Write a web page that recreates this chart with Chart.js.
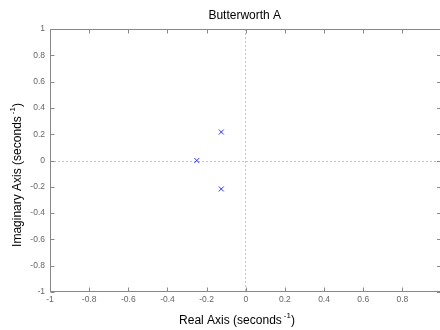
<!DOCTYPE html>
<html><head><meta charset="utf-8">
<script src="https://cdn.jsdelivr.net/npm/chart.js@4"></script>
<style>html,body{margin:0;padding:0;overflow:hidden;background:#fff}#wrap{width:446px;height:330px}</style>
</head><body><div id="wrap"><canvas id="c" width="446" height="330"></canvas></div>
<script>
const chartTitle = 'Butterworth A';
const xAxisLabel = 'Real Axis (seconds';
const yAxisLabel = 'Imaginary Axis (seconds';
const unitSup = '-1';
const unitClose = ')';
const poleRe = [-0.25, -0.125, -0.125];
const poleIm = [0, 0.2165, -0.2165];
const xTicks = [-1, -0.8, -0.6, -0.4, -0.2, 0, 0.2, 0.4, 0.6, 0.8];
const xTickLabels = ['-1', '-0.8', '-0.6', '-0.4', '-0.2', '0', '0.2', '0.4', '0.6', '0.8'];
const yTicks = [-1, -0.8, -0.6, -0.4, -0.2, 0, 0.2, 0.4, 0.6, 0.8, 1];
const yTickLabels = ['-1', '-0.8', '-0.6', '-0.4', '-0.2', '0', '0.2', '0.4', '0.6', '0.8', '1'];

const FONT = "'Liberation Sans', Arial, Helvetica, sans-serif";
const AXIS_COLOR = '#888888';

function drawSupLabel(ctx, main, sup, close, cx, cy) {
  ctx.font = '12px ' + FONT;
  const w1 = ctx.measureText(main).width;
  const w3 = ctx.measureText(close).width;
  ctx.font = '8px ' + FONT;
  const gap = 2;
  const w2 = ctx.measureText(sup).width;
  const total = w1 + gap + w2 + w3;
  let x = cx - total / 2;
  ctx.textAlign = 'left';
  ctx.textBaseline = 'middle';
  ctx.fillStyle = '#000';
  ctx.font = '12px ' + FONT;
  ctx.fillText(main, x, cy);
  x += w1 + gap;
  ctx.font = '8px ' + FONT;
  ctx.fillText(sup, x, cy - 5);
  x += w2;
  ctx.font = '12px ' + FONT;
  ctx.fillText(close, x, cy);
}

const decor = {
  id: 'decor',
  beforeDatasetsDraw(chart) {
    const {ctx, chartArea: a, scales} = chart;
    const x0 = Math.round(scales.x.getPixelForValue(0)) - 0.5;
    const y0 = Math.round(scales.y.getPixelForValue(0)) + 0.5;
    ctx.save();
    ctx.strokeStyle = '#c4c4c4';
    ctx.lineWidth = 1;
    ctx.setLineDash([2, 2]);
    ctx.beginPath();
    ctx.moveTo(a.left, y0); ctx.lineTo(a.right, y0);
    ctx.moveTo(x0, a.top); ctx.lineTo(x0, a.bottom);
    ctx.stroke();
    ctx.restore();
  },
  afterDraw(chart) {
    const {ctx, chartArea: a, scales} = chart;
    ctx.save();
    ctx.strokeStyle = AXIS_COLOR;
    ctx.lineWidth = 1;
    const L = a.left + 0.5, R = a.right - 0.5, T = a.top + 0.5, B = a.bottom - 0.5;
    ctx.beginPath();
    ctx.moveTo(L, T); ctx.lineTo(R, T); ctx.lineTo(R, B); ctx.lineTo(L, B); ctx.closePath();
    const tl = 4;
    scales.x.ticks.forEach(t => {
      const px = Math.round(scales.x.getPixelForValue(t.value)) + 0.5;
      ctx.moveTo(px, B); ctx.lineTo(px, B - tl);
      ctx.moveTo(px, T); ctx.lineTo(px, T + tl);
    });
    scales.y.ticks.forEach(t => {
      const py = Math.round(scales.y.getPixelForValue(t.value)) + 0.5;
      ctx.moveTo(L, py); ctx.lineTo(L + tl, py);
      ctx.moveTo(R, py); ctx.lineTo(R - tl, py);
    });
    ctx.stroke();

    ctx.fillStyle = '#000';
    ctx.font = '12px ' + FONT;
    ctx.textAlign = 'center';
    ctx.textBaseline = 'middle';
    ctx.fillText(chartTitle, (a.left + a.right) / 2 - 1, 16);

    drawSupLabel(ctx, xAxisLabel, unitSup, unitClose, 237, 321);
    ctx.save();
    ctx.translate(18, 175);
    ctx.rotate(-Math.PI / 2);
    drawSupLabel(ctx, yAxisLabel, unitSup, unitClose, 0, 0);
    ctx.restore();
    ctx.restore();
  }
};

new Chart(document.getElementById('c'), {
  type: 'scatter',
  data: {
    datasets: [{
      data: poleRe.map((x, i) => ({x: x, y: poleIm[i]})),
      pointStyle: 'crossRot',
      radius: 3.5,
      hoverRadius: 3.5,
      borderColor: 'rgba(0,0,255,0.8)',
      backgroundColor: 'rgba(0,0,255,0.8)',
      borderWidth: 1
    }]
  },
  options: {
    responsive: false,
    animation: false,
    devicePixelRatio: 1,
    layout: {padding: {top: 29, right: 4, left: 0, bottom: 0}},
    plugins: {legend: {display: false}, tooltip: {enabled: false}, title: {display: false}},
    scales: {
      x: {
        type: 'linear', min: -1, max: 1,
        afterBuildTicks: s => { s.ticks = xTicks.map(v => ({value: v})); },
        afterFit: s => { s.height = 38; s.paddingLeft = 0; s.paddingRight = 0; },
        ticks: {
          callback: v => xTickLabels[xTicks.indexOf(v)],
          font: {family: FONT, size: 8.5}, color: '#666', padding: 3,
          maxRotation: 0, autoSkip: false
        },
        grid: {display: false, drawTicks: false},
        border: {display: false}
      },
      y: {
        type: 'linear', min: -1, max: 1,
        afterBuildTicks: s => { s.ticks = yTicks.map(v => ({value: v})); },
        afterFit: s => { s.width = 50; s.paddingTop = 0; s.paddingBottom = 0; },
        ticks: {
          callback: v => yTickLabels[yTicks.indexOf(v)],
          font: {family: FONT, size: 8.5}, color: '#666', padding: 5,
          autoSkip: false
        },
        grid: {display: false, drawTicks: false},
        border: {display: false}
      }
    }
  },
  plugins: [decor]
});
</script>
</body></html>
